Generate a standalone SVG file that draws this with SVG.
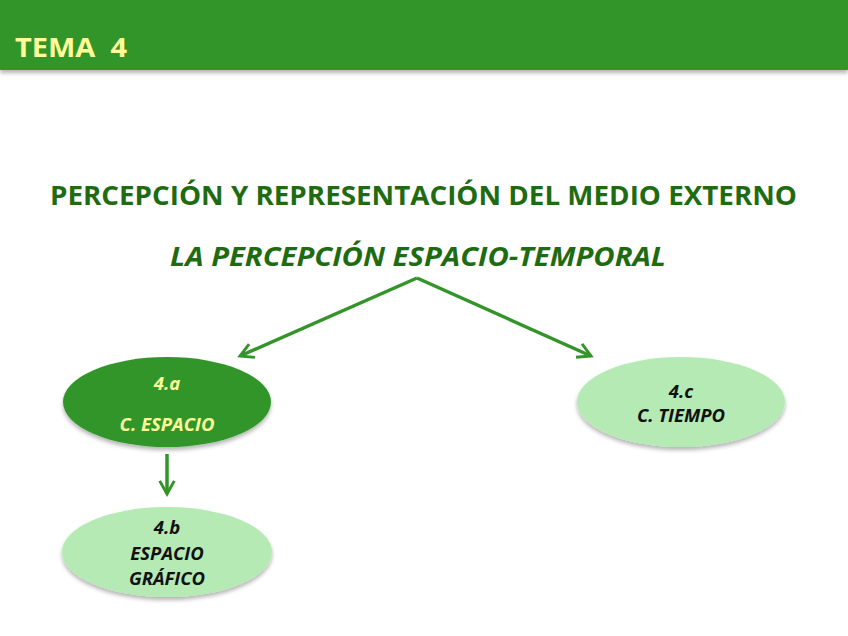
<svg xmlns="http://www.w3.org/2000/svg" width="848" height="636" viewBox="0 0 848 636">
<defs>
<style>
.hdr{font-family:"Open Sans","Liberation Sans",sans-serif;font-weight:bold;font-size:26px;fill:#FFFF99}
.title{font-family:"Open Sans","Liberation Sans",sans-serif;font-weight:bold;fill:#1E6B12;font-size:26px}
.lbl{font-family:"Open Sans","Liberation Sans",sans-serif;font-weight:bold;font-style:italic;font-size:18.5px;text-anchor:middle}
.dark{fill:#339529}
.light{fill:#B5EAB5}
.conn{stroke:#339529;stroke-width:3.5;fill:none}
</style>
<marker id="ah" viewBox="0 0 12 12" refX="10" refY="6" markerWidth="5" markerHeight="5" orient="auto" markerUnits="strokeWidth">
<path d="M1,1 L10,6 L1,11" fill="none" stroke="#339529" stroke-width="2"/>
</marker>
<filter id="sh" x="-20%" y="-20%" width="140%" height="150%">
<feGaussianBlur in="SourceAlpha" stdDeviation="2"/>
<feOffset dx="0" dy="3"/>
<feComponentTransfer><feFuncA type="linear" slope="0.3"/></feComponentTransfer>
<feMerge><feMergeNode/><feMergeNode in="SourceGraphic"/></feMerge>
</filter>
</defs>
<rect x="0" y="0" width="848" height="636" fill="#FFFFFF"/>
<g id="header">
<rect x="0" y="0" width="848" height="70" fill="#339529" filter="url(#sh)"/>
<text class="hdr" x="15" y="57" textLength="112" lengthAdjust="spacingAndGlyphs" xml:space="preserve">TEMA  4</text>
</g>
<g id="title">
<text class="title" x="50" y="205" textLength="747" lengthAdjust="spacingAndGlyphs">PERCEPCIÓN Y REPRESENTACIÓN DEL MEDIO EXTERNO</text>
<text class="title" x="170" y="266" font-style="italic" textLength="496" lengthAdjust="spacingAndGlyphs">LA PERCEPCIÓN ESPACIO-TEMPORAL</text>
</g>
<g id="connectors">
<path class="conn" d="M417,278 L240,356" marker-end="url(#ah)"/>
<path class="conn" d="M417,278 L591,356" marker-end="url(#ah)"/>
<path class="conn" d="M167,454 L167,494" marker-end="url(#ah)"/>
</g>
<g id="node-4a">
<ellipse class="dark" cx="167" cy="402" rx="104" ry="45" filter="url(#sh)"/>
<text class="lbl" x="167" y="390" fill="#FFFF99">4.a</text>
<text class="lbl" x="167" y="431" fill="#FFFF99">C. ESPACIO</text>
</g>
<g id="node-4b">
<ellipse class="light" cx="167" cy="552" rx="105" ry="45" filter="url(#sh)"/>
<text class="lbl" x="167" y="534" fill="#111111">4.b</text>
<text class="lbl" x="167" y="560" fill="#111111">ESPACIO</text>
<text class="lbl" x="167" y="585" fill="#111111">GRÁFICO</text>
</g>
<g id="node-4c">
<ellipse class="light" cx="681" cy="402" rx="104" ry="45" filter="url(#sh)"/>
<text class="lbl" x="681" y="398" fill="#111111">4.c</text>
<text class="lbl" x="681" y="422" fill="#111111">C. TIEMPO</text>
</g>
</svg>
